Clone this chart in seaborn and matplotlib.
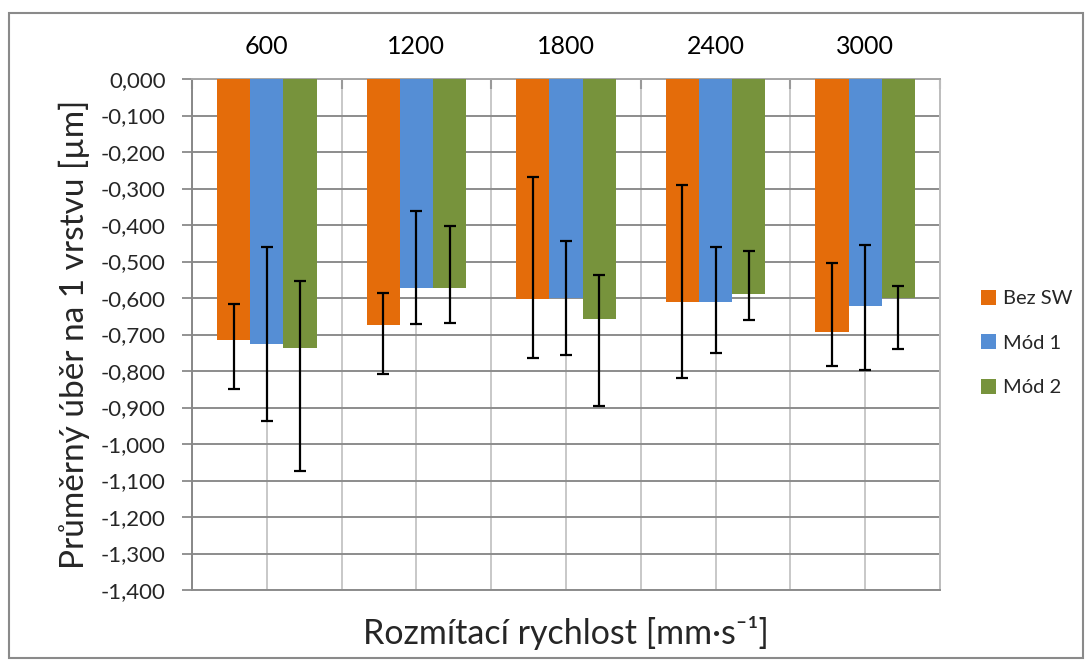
import numpy as np
import pandas as pd
import matplotlib
matplotlib.use("Agg")
import matplotlib.pyplot as plt
from matplotlib.patches import Rectangle
from matplotlib.ticker import FixedLocator, FuncFormatter
import seaborn as sns

# Sweep speeds and surface-removal per layer (µm), mean values
speeds = ["600", "1200", "1800", "2400", "3000"]
series = ["Bez SW", "Mód 1", "Mód 2"]
bez_sw = [-0.715, -0.674, -0.602, -0.612, -0.692]
mod_1 = [-0.726, -0.573, -0.599, -0.610, -0.622]
mod_2 = [-0.737, -0.573, -0.657, -0.589, -0.599]

# Error-bar end points (upper = closer to zero, lower = more negative)
bez_sw_hi = [-0.616, -0.586, -0.268, -0.290, -0.505]
bez_sw_lo = [-0.850, -0.807, -0.765, -0.820, -0.786]
mod_1_hi = [-0.461, -0.363, -0.444, -0.461, -0.454]
mod_1_lo = [-0.938, -0.671, -0.757, -0.751, -0.798]
mod_2_hi = [-0.553, -0.404, -0.536, -0.472, -0.567]
mod_2_lo = [-1.075, -0.669, -0.896, -0.659, -0.739]

colors = ["#E46C0A", "#558ED5", "#77933C"]

sns.set_theme(style="white")
plt.rcParams["font.family"] = ["Lato", "DejaVu Sans"]

df = pd.DataFrame({
    "speed": speeds * 3,
    "series": np.repeat(series, len(speeds)),
    "value": bez_sw + mod_1 + mod_2,
})

fig = plt.figure(figsize=(10.92, 6.66), dpi=100)
ax = fig.add_axes([192 / 1092, 1 - 590 / 666, (940 - 192) / 1092, (590 - 79) / 666])

sns.barplot(data=df, x="speed", y="value", hue="series", palette=colors,
            order=speeds, hue_order=series, width=0.667, errorbar=None,
            saturation=1, ax=ax, zorder=3, linewidth=0)

his = [bez_sw_hi, mod_1_hi, mod_2_hi]
los = [bez_sw_lo, mod_1_lo, mod_2_lo]
vals = [bez_sw, mod_1, mod_2]
for cont, v, hi, lo in zip(ax.containers, vals, his, los):
    xs = [p.get_x() + p.get_width() / 2 for p in cont.patches]
    v = np.array(v)
    yerr = np.vstack([v - np.array(lo), np.array(hi) - v])
    ax.errorbar(xs, v, yerr=yerr, fmt="none", ecolor="black", elinewidth=1.6,
                capsize=4.5, capthick=1.6, zorder=4)

ax.set_ylim(-1.4, 0)
ax.set_xlim(-0.5, len(speeds) - 0.5)
ax.set_yticks(np.arange(-1.4, 0.0001, 0.1))
ax.yaxis.set_major_formatter(FuncFormatter(lambda y, _: f"{y:.3f}".replace(".", ",").replace("-0,000", "0,000")))

# Category axis sits on the zero line at the top
ax.xaxis.tick_top()
ax.xaxis.set_minor_locator(FixedLocator(np.arange(-0.5, len(speeds), 1.0)))
ax.tick_params(axis="x", which="major", length=0, pad=15, labelsize=18, colors="black")
ax.tick_params(axis="x", which="minor", length=7, width=1.5, direction="in", color="#9a9a9a", top=True, bottom=False)
ax.tick_params(axis="y", which="major", length=7, width=1.3, color="#8a8a8a", labelsize=16, pad=12, left=True)

ax.grid(axis="y", color="#8c8c8c", linewidth=1.4, zorder=0)
ax.grid(axis="x", which="both", color="#c4c4c4", linewidth=1.3, zorder=0)
ax.set_axisbelow(True)

for side, c in [("left", "#888888"), ("top", "#a6a6a6"), ("right", "#bdbdbd"), ("bottom", "#8c8c8c")]:
    ax.spines[side].set_visible(True)
    ax.spines[side].set_color(c)
    ax.spines[side].set_linewidth(1.4)

ax.set_xlabel("Rozmítací rychlost [mm·s⁻¹]", fontsize=24.5, labelpad=19)
ax.xaxis.set_label_position("bottom")
ax.set_ylabel("Průměrný úběr na 1 vrstvu [µm]", fontsize=24, labelpad=8)

leg = ax.legend(loc="center left", bbox_to_anchor=(1.03, 0.483), frameon=False,
                fontsize=14.5, handlelength=0.75, handleheight=0.75, handletextpad=0.35,
                labelspacing=1.35)

# Chart-area frame
fig.patches.append(Rectangle((9 / 1092, 1 - 658 / 666), (1083 - 9) / 1092, (658 - 13) / 666,
                             transform=fig.transFigure, fill=False, edgecolor="#8a8a8a",
                             linewidth=1.5))

fig.savefig("out.png", dpi=100)
